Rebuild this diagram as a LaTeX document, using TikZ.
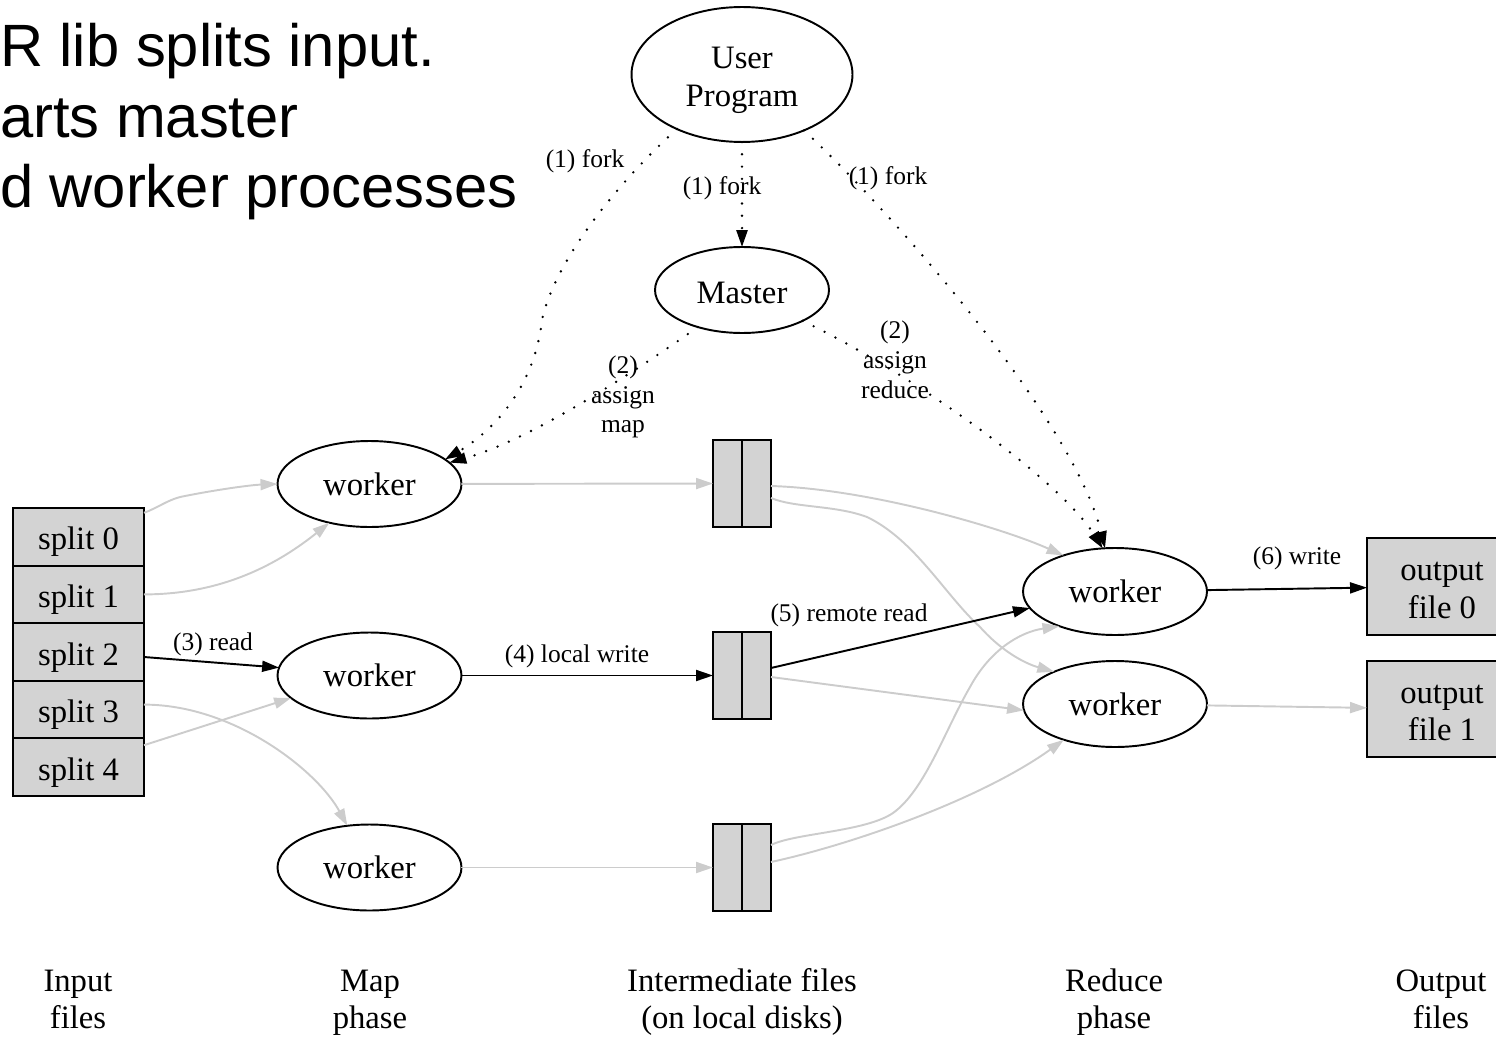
\documentclass[tikz,border=0pt]{standalone}
\usepackage{fontspec}
\setmainfont{Liberation Serif}
\newfontfamily\arialfont{Liberation Sans}
\usetikzlibrary{arrows.meta,calc,shapes.geometric}
\definecolor{edgegray}{RGB}{204,204,204}
\definecolor{boxfill}{RGB}{211,211,211}
\newcommand\mystrut{\rule[-5pt]{0pt}{24.8pt}}
\newcommand\mybr{\\[-4.3pt]}
\begin{document}
\begin{tikzpicture}[x=0.02cm,y=-0.02cm,
  >={Triangle[length=0.34cm,width=0.22cm]},
  every node/.style={inner sep=0pt, outer sep=0pt},
  nodefont/.style={font=\fontsize{18.6}{21.5}\selectfont},
  ell/.style={ellipse, draw, line width=1.1pt, nodefont, align=center},
  wrk/.style={ell, minimum width=3.68cm, minimum height=1.72cm},
  splitbox/.style={rectangle, draw, line width=1.1pt, fill=boxfill, minimum width=2.62cm, minimum height=1.152cm, nodefont},
  interbox/.style={rectangle, draw, line width=1.1pt, fill=boxfill, minimum width=1.16cm, minimum height=1.74cm},
  outbox/.style={rectangle, draw, line width=1.1pt, fill=boxfill, minimum width=3.0cm, nodefont, align=center},
  phase/.style={nodefont, align=center},
  lbl/.style={font=\fontsize{14.5}{17}\selectfont, align=center},
  bigtext/.style={anchor=base west, font=\arialfont\fontsize{34}{40}\selectfont},
  grayedge/.style={->, draw=edgegray, line width=1.1pt},
  blackedge/.style={->, draw=black, line width=1.1pt},
  dotedge/.style={->, line width=1.5pt, dash pattern=on 0pt off 7pt, line cap=round}
]
\useasboundingbox (0,0) rectangle (1496,1037);
\clip (0,0) rectangle (1496,1037);

% heading text
\node[bigtext] (t1) at (0,67) {R lib splits input.};
\node[bigtext] (t2) at (0,138) {arts master};
\node[bigtext] (t3) at (0,208) {d worker processes};

% nodes
\node[ell, minimum width=4.42cm, minimum height=2.7cm] (U) at (742,74.5) {\mystrut User\mybr\mystrut Program};
\node[ell, minimum width=3.48cm, minimum height=1.72cm] (M) at (742,290) {\mystrut Master};
\node[wrk] (w1) at (369.5,484) {worker};
\node[wrk] (w2) at (369.5,675.5) {worker};
\node[wrk] (w3) at (369.5,867.5) {worker};
\node[wrk, minimum height=1.74cm] (r1) at (1115,591.5) {worker};
\node[wrk] (r2) at (1115,704) {worker};

\foreach \i in {0,...,4}{
  \node[splitbox] (s\i) at (78.5,{536.8+57.6*\i}) {\mystrut split \i};
}

\node[interbox] (b1) at (742,483.5) {};
\node[interbox] (b2) at (742,675.5) {};
\node[interbox] (b3) at (742,867.5) {};
\foreach \b in {b1,b2,b3}{
  \draw[line width=1.1pt] (\b.north) -- (\b.south);
}

\node[outbox, minimum height=1.94cm] (o0) at (1442,586.5) {\mystrut output\mybr\mystrut file 0};
\node[outbox, minimum height=1.92cm] (o1) at (1442,709) {\mystrut output\mybr\mystrut file 1};

% phase labels
\node[phase] (pin) at (78,997) {\mystrut Input\mybr\mystrut files};
\node[phase] (pmap) at (370,997) {\mystrut Map\mybr\mystrut phase};
\node[phase] (pint) at (742,997) {\mystrut Intermediate files\mybr\mystrut (on local disks)};
\node[phase] (pred) at (1114,997) {\mystrut Reduce\mybr\mystrut phase};
\node[phase] (pout) at (1441,997) {\mystrut Output\mybr\mystrut files};

% gray edges
\draw[grayedge] ($(s0.east)+(0,-24)$) .. controls (160,507) and (168,499) .. (185,496) .. controls (215,490) and (250,485) .. (w1.west);
\draw[grayedge] (s1.east) .. controls +(80,0) and +(-50,40) .. (w1.224);
\draw[grayedge] ($(s3.east)+(0,-5)$) .. controls +(90,0) and +(-30,-55) .. (w3.118);
\draw[grayedge] ($(s4.east)+(0,-22)$) -- (w2.196);
\draw[grayedge] (w1) -- (b1);
\draw[grayedge] (w3) -- (b3);
\draw[grayedge] ($(b1.east)+(0,2.5)$) .. controls +(100,3) and +(-60,-27) .. (r1.145);
\draw[grayedge] ($(b1.east)+(0,14.5)$) .. controls (795,508) and (835,505) .. (867,517) .. controls (915,540) and (945,595) .. (980,627) .. controls (1005,655) and (1030,665) .. (r2.152);
\draw[grayedge] ($(b2.east)+(0,1.5)$) -- (r2.184);
\draw[grayedge] ($(b3.east)+(0,-22.5)$) .. controls (795,833) and (865,832) .. (893,813) .. controls (925,790) and (945,730) .. (970,687) .. controls (990,650) and (1020,632) .. (r1.212);
\draw[grayedge] ($(b3.east)+(0,-5.5)$) .. controls (850,845) and (980,800) .. (r2.215);
\draw[grayedge] (r2) -- (o1);

% black edges
\draw[blackedge] ($(s2.east)+(0,5)$) -- (w2.175);
\draw[blackedge] (w2) -- (b2);
\draw[blackedge] ($(b2.east)+(0,-7.5)$) -- (r1.191);
\draw[blackedge] (r1) -- (o0);

% dotted edges
\draw[dotedge] (U.220) .. controls (620,180) and (555,260) .. (542,320) .. controls (535,385) and (495,430) .. (w1.18);
\draw[dotedge] (U) -- (M);
\draw[dotedge] (U.318) .. controls (905,225) and (1075,425) .. (r1.103);
\draw[dotedge] (M.220) .. controls (630,375) and (530,440) .. (w1.15);
\draw[dotedge] (M.333) .. controls (910,372) and (1060,480) .. (r1.106);

% edge labels
\node[lbl] (l3) at (213,644) {(3) read};
\node[lbl] (l4) at (577,656) {(4) local write};
\node[lbl] (l5) at (849,615) {(5) remote read};
\node[lbl] (l6) at (1297,558) {(6) write};
\node[lbl] (f1) at (585,161) {(1) fork};
\node[lbl] (f2) at (722,188) {(1) fork};
\node[lbl] (f3) at (888,178) {(1) fork};
\node[lbl] (a1) at (623,397) {(2)\\assign\\map};
\node[lbl] (a2) at (895,360) {(2)\\assign\\reduce};
\end{tikzpicture}
\end{document}
